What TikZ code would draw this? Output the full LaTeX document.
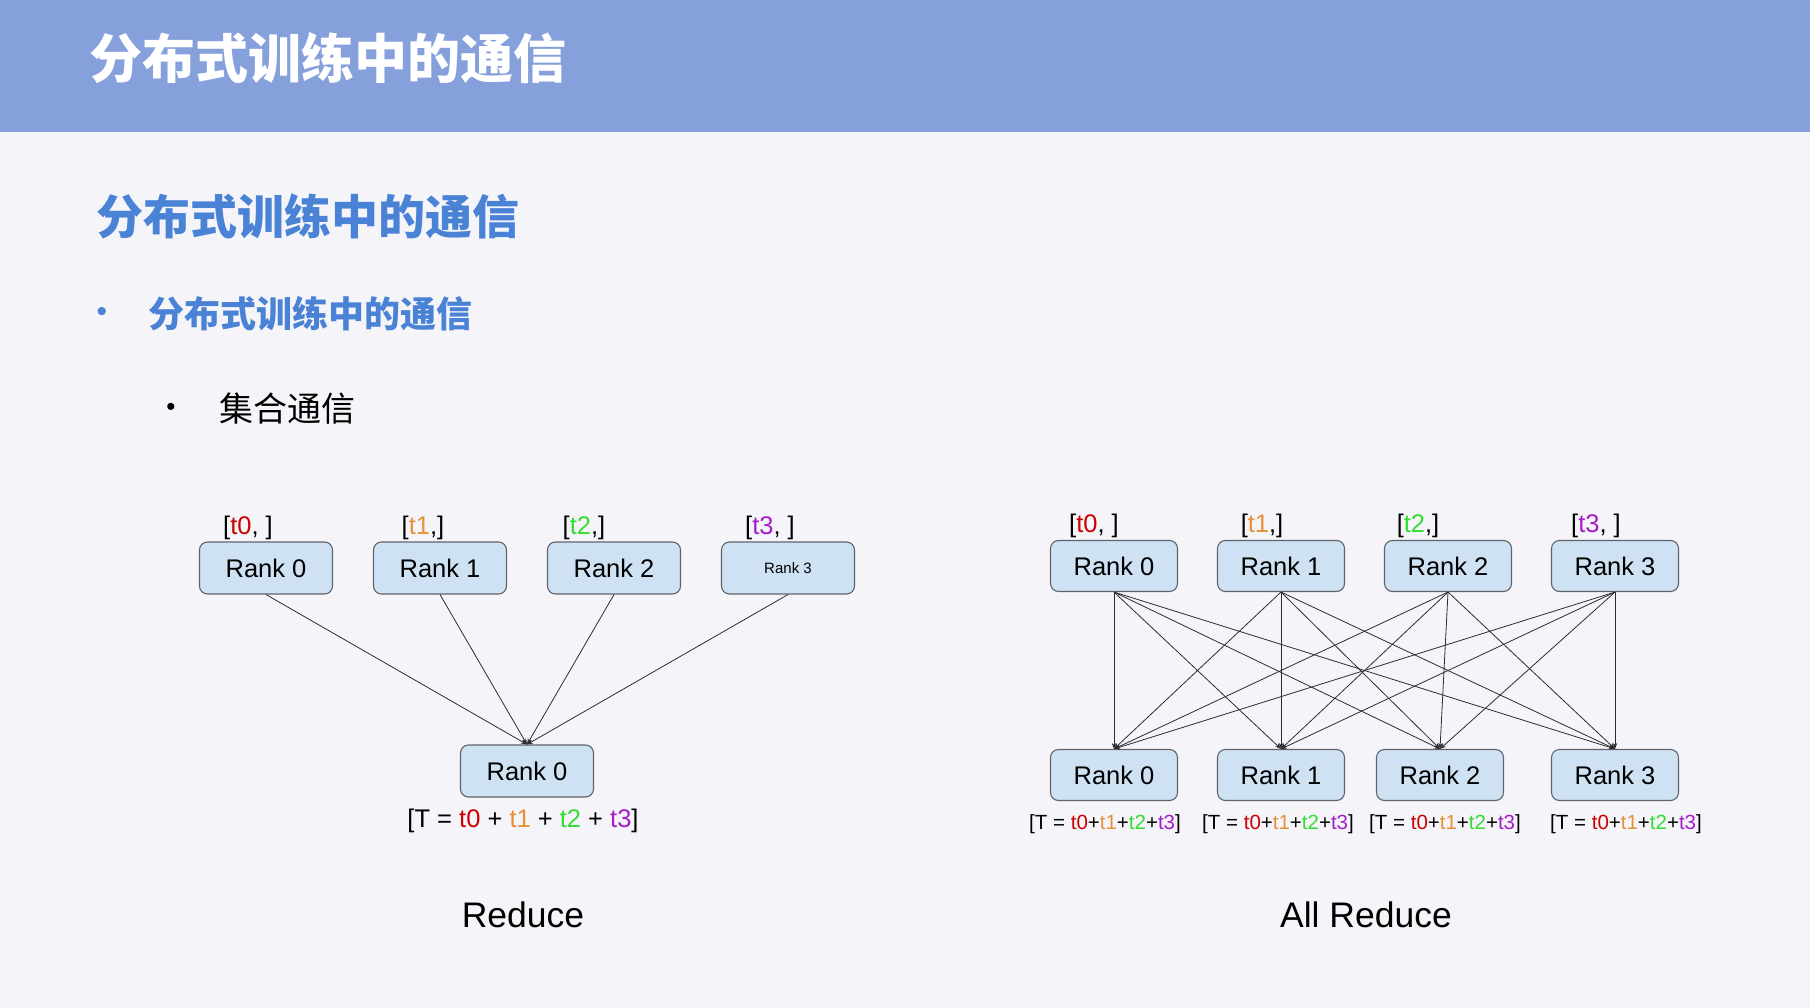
\documentclass[tikz,border=0pt]{standalone}
\usepackage{fontspec}
\setmainfont{Liberation Sans}
\newfontfamily\cjk{Noto Sans CJK SC}
\usetikzlibrary{positioning,arrows.meta}
\definecolor{headblue}{RGB}{134,160,220}
\definecolor{slidebg}{RGB}{245,245,249}
\definecolor{titleblue}{RGB}{74,130,214}
\definecolor{rankfill}{RGB}{207,226,243}
\definecolor{rankline}{RGB}{95,100,108}
\definecolor{linkgrey}{RGB}{45,45,45}
\definecolor{tred}{RGB}{204,0,0}
\definecolor{tora}{RGB}{230,145,56}
\definecolor{tgrn}{RGB}{51,221,51}
\definecolor{tpur}{RGB}{166,28,201}
\newcommand\tzero{{\color{tred}t0}}
\newcommand\tone{{\color{tora}t1}}
\newcommand\ttwo{{\color{tgrn}t2}}
\newcommand\tthree{{\color{tpur}t3}}
\tikzset{
  rank/.style={draw=rankline,line width=1.1pt,fill=rankfill,rounded corners=8pt,minimum width=133pt,
               minimum height=52pt,inner sep=2pt,font=\fontsize{25.5}{30}\selectfont},
  arank/.style={rank,minimum width=127pt,minimum height=51pt},
  tag/.style={font=\fontsize{25.5}{30}\selectfont,inner sep=1.5pt},
  sumtag/.style={font=\fontsize{20.5}{24}\selectfont,inner sep=1.5pt},
  ln/.style={-{Stealth[length=6pt,width=4.5pt]},draw=linkgrey,line width=0.8pt},
  figcap/.style={font=\fontsize{35.5}{40}\selectfont,inner sep=1pt},
}

\begin{document}
\begin{tikzpicture}[x=1pt,y=-1pt]
\useasboundingbox (0,0) rectangle (1810,1008);
\fill[slidebg] (0,0) rectangle (1810,1008);
\fill[headblue] (0,0) rectangle (1810,132);

% slide text
\node[anchor=west,inner sep=0,text=white,font=\fontsize{53}{60}\selectfont\cjk\bfseries] (head) at (89,58) {分布式训练中的通信};
\node[anchor=west,inner sep=0,text=titleblue,font=\fontsize{47}{52}\selectfont\cjk\bfseries] (title) at (96,216) {分布式训练中的通信};
\node[text=titleblue,font=\fontsize{30}{30}\selectfont] (dot1) at (102,314) {•};
\node[anchor=west,inner sep=0,text=titleblue,font=\fontsize{36}{40}\selectfont\cjk\bfseries] (lvl1) at (148,314) {分布式训练中的通信};
\node[font=\fontsize{26}{26}\selectfont] (dot2) at (171,409) {•};
\node[anchor=west,inner sep=0,font=\fontsize{34}{38}\selectfont\cjk] (lvl2) at (219,409) {集合通信};

% Reduce
\node[rank] (r0) at (266,568) {Rank 0};
\node[rank,right=39.9pt of r0] (r1) {Rank 1};
\node[rank,right=39.9pt of r1] (r2) {Rank 2};
\node[rank,right=39.9pt of r2,font=\fontsize{15}{18}\selectfont] (r3) {Rank 3};
\node[rank] (rsum) at (527,771) {Rank 0};

\node[tag,above=0pt of r0,xshift=-18pt] (r0t) {[\tzero, ]};
\node[tag,above=0pt of r1,xshift=-17pt] (r1t) {[\tone,]};
\node[tag,above=0pt of r2,xshift=-30pt] (r2t) {[\ttwo,]};
\node[tag,above=0pt of r3,xshift=-18pt] (r3t) {[\tthree, ]};
\node[tag,below=9.5pt of rsum,xshift=-4pt] (rsumt) {[T = \tzero{} + \tone{} + \ttwo{} + \tthree]};

\foreach \k in {0,...,3} \draw[ln] (r\k.south) -- (rsum.north);

\node[figcap] (redcap) at (523,915) {Reduce};

% All Reduce
\node[arank] (a0) at (1114,566) {Rank 0};
\node[arank,right=38.9pt of a0] (a1) {Rank 1};
\node[arank,right=38.9pt of a1] (a2) {Rank 2};
\node[arank,right=38.9pt of a2] (a3) {Rank 3};
\node[arank] (b0) at (1114,775) {Rank 0};
\node[arank,right=38.9pt of b0] (b1) {Rank 1};
\node[arank,right=30.9pt of b1] (b2) {Rank 2};
\node[arank,right=46.9pt of b2] (b3) {Rank 3};

\node[tag,above=0pt of a0,xshift=-20pt] (a0t) {[\tzero, ]};
\node[tag,above=0pt of a1,xshift=-19pt] (a1t) {[\tone,]};
\node[tag,above=0pt of a2,xshift=-30pt] (a2t) {[\ttwo,]};
\node[tag,above=0pt of a3,xshift=-19pt] (a3t) {[\tthree, ]};
\node[sumtag,below=11.5pt of b0,xshift=-9pt] (b0t) {[T = \tzero+\tone+\ttwo+\tthree]};
\node[sumtag,below=11.5pt of b1,xshift=-3pt] (b1t) {[T = \tzero+\tone+\ttwo+\tthree]};
\node[sumtag,below=11.5pt of b2,xshift=5pt] (b2t) {[T = \tzero+\tone+\ttwo+\tthree]};
\node[sumtag,below=11.5pt of b3,xshift=11pt] (b3t) {[T = \tzero+\tone+\ttwo+\tthree]};

\foreach \i in {0,...,3}{
  \foreach \j in {0,...,3} \draw[ln] (a\i.south) -- (b\j.north);
}

\node[figcap] (allcap) at (1366,915) {All Reduce};

\end{tikzpicture}
\end{document}
